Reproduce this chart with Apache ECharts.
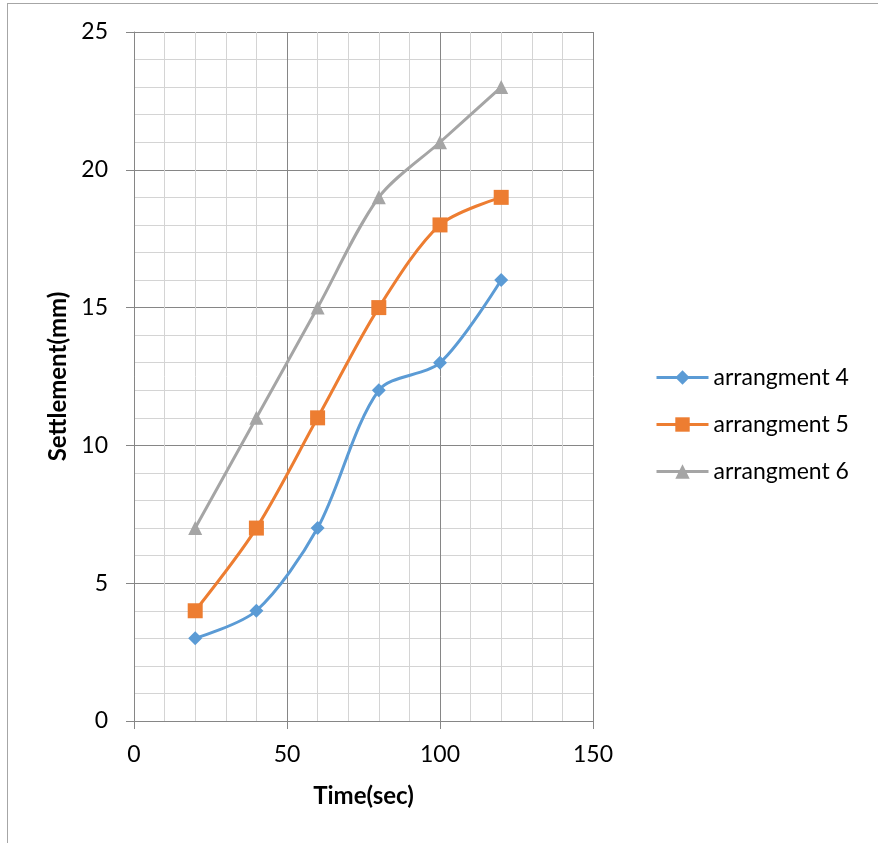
<!DOCTYPE html>
<html>
<head>
<meta charset="utf-8">
<script src="https://cdn.jsdelivr.net/npm/echarts@6/dist/echarts.min.js"></script>
<style>
  html, body { margin: 0; padding: 0; background: #fff; }
  #frame { position: absolute; left: 7px; top: 3px; width: 880px; height: 850px;
           border-top: 1px solid #a6a6a6; border-left: 1px solid #a6a6a6; }
  #chart { position: absolute; left: 0; top: 0; width: 878px; height: 843px; }
</style>
</head>
<body>
<div id="frame"></div>
<div id="chart"></div>
<script>
//data
let timeSec = [20, 40, 60, 80, 100, 120];
let arr4 = [3, 4, 7, 12, 13, 16];
let arr5 = [4, 7, 11, 15, 18, 19];
let arr6 = [7, 11, 15, 19, 21, 23];
let seriesNames = ["arrangment 4", "arrangment 5", "arrangment 6"];

let chart = echarts.init(document.getElementById('chart'));
let font = "Lato, 'Open Sans', sans-serif";

function pairs(ys) {
    let out = [];
    for (let i = 0; i < timeSec.length; i++) {
        out.push([timeSec[i], ys[i]]);
    }
    return out;
}

function makeSeries(name, ys, color, symbol, size) {
    return {
        name: name,
        type: 'line',
        data: pairs(ys),
        smooth: 0.3,
        symbol: symbol,
        symbolSize: size,
        showSymbol: true,
        lineStyle: { color: color, width: 3 },
        itemStyle: { color: color },
        emphasis: { disabled: true }
    };
}

let option = {
    animation: false,
    textStyle: { fontFamily: font },
    grid: { left: 134, top: 32, width: 459, height: 689, containLabel: false },
    legend: {
        orient: 'vertical',
        left: 650,
        top: 360,
        itemWidth: 52,
        itemHeight: 18,
        itemGap: 22,
        lineStyle: { width: 3 },
        textStyle: { fontSize: 23, lineHeight: 25, color: '#000', fontFamily: font },
        data: seriesNames
    },
    xAxis: {
        type: 'value',
        min: 0, max: 150, interval: 50,
        name: 'Time(sec)',
        nameLocation: 'middle',
        nameGap: 63,
        nameTextStyle: { fontSize: 24, fontWeight: 'bold', color: '#000', fontFamily: font },
        axisLine: { show: true, lineStyle: { color: '#868686', width: 1 } },
        axisTick: { show: true, inside: false, length: 8, lineStyle: { color: '#868686' } },
        axisLabel: { fontSize: 23, color: '#000', margin: 22, fontFamily: font },
        splitLine: { show: true, lineStyle: { color: '#868686', width: 1 } },
        minorTick: { show: false, splitNumber: 5 },
        minorSplitLine: { show: true, lineStyle: { color: '#d4d4d4', width: 1 } }
    },
    yAxis: {
        type: 'value',
        min: 0, max: 25, interval: 5,
        name: 'Settlement(mm)',
        nameLocation: 'middle',
        nameGap: 62,
        nameTextStyle: { fontSize: 24, fontWeight: 'bold', color: '#000', fontFamily: font },
        axisLine: { show: true, lineStyle: { color: '#868686', width: 1 } },
        axisTick: { show: true, inside: false, length: 8, lineStyle: { color: '#868686' } },
        axisLabel: { fontSize: 23, color: '#000', margin: 26, fontFamily: font },
        splitLine: { show: true, lineStyle: { color: '#868686', width: 1 } },
        minorTick: { show: false, splitNumber: 5 },
        minorSplitLine: { show: true, lineStyle: { color: '#d4d4d4', width: 1 } }
    },
    series: [
        makeSeries(seriesNames[0], arr4, '#5B9BD5', 'diamond', 14),
        makeSeries(seriesNames[1], arr5, '#ED7D31', 'rect', 15),
        makeSeries(seriesNames[2], arr6, '#A5A5A5', 'triangle', 14)
    ]
};

chart.setOption(option);
</script>
</body>
</html>
